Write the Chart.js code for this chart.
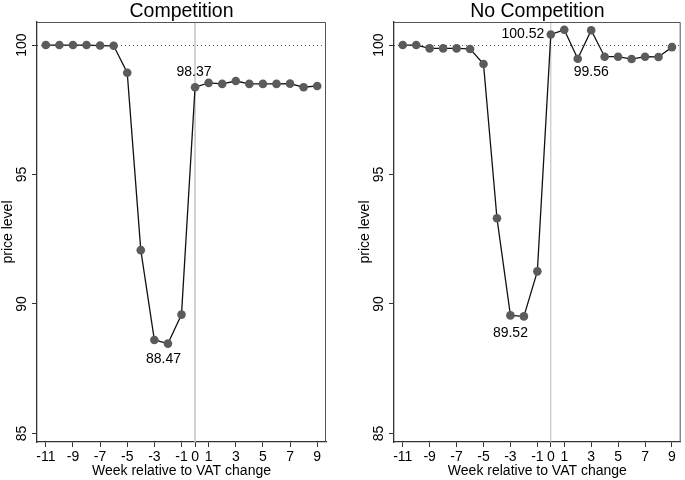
<!DOCTYPE html>
<html>
<head>
<meta charset="utf-8">
<script src="https://cdn.jsdelivr.net/npm/chart.js@4.4.1/dist/chart.umd.min.js"></script>
<style>
  body { margin: 0; background: #fff; width: 685px; height: 480px; overflow: hidden; position: relative; }
  canvas { position: absolute; top: 0; }
</style>
</head>
<body>
<canvas id="chart_c" width="342" height="480" style="left:0"></canvas>
<canvas id="chart_n" width="328" height="480" style="left:357px"></canvas>
<script>
// weeks relative to VAT change
const weeks = [-11, -10, -9, -8, -7, -6, -5, -4, -3, -2, -1, 0, 1, 2, 3, 4, 5, 6, 7, 8, 9];

// price level, competition
const compValues = [100, 100, 100, 100, 99.98, 99.97, 98.93, 92.08, 88.61, 88.47, 89.59,
                    98.37, 98.54, 98.50, 98.61, 98.50, 98.50, 98.50, 98.51, 98.37, 98.42];

// price level, no competition
const noCompValues = [100, 100, 99.87, 99.87, 99.87, 99.85, 99.27, 93.31, 89.56, 89.52, 91.26,
                      100.41, 100.59, 99.47, 100.57, 99.55, 99.55, 99.46, 99.55, 99.54, 99.92];

const xTicks = [-11, -9, -7, -5, -3, -1, 0, 1, 3, 5, 7, 9];
const yTicks = [85, 90, 95, 100];

// labelled points
const compNotes = ['98.37', '88.47'];
const compNoteWeeks = [0, -2];
const noCompNotes = ['100.52', '99.56', '89.52'];
const noCompNoteWeeks = [0, 2, -3];

const FONT = "'Liberation Sans', Arial, Helvetica, sans-serif";

// reference lines, frame, rotated y labels, notes
const panelPlugin = {
    id: 'panel',
    beforeDatasetsDraw(chart, args, opts) {
        const {ctx, chartArea: a, scales: {x, y}} = chart;
        ctx.save();
        // dotted line at 100
        ctx.strokeStyle = '#555';
        ctx.lineWidth = 1;
        ctx.setLineDash([1, 3]);
        ctx.beginPath();
        const y100 = Math.round(y.getPixelForValue(100)) + 0.5;
        ctx.moveTo(a.left, y100);
        ctx.lineTo(a.right, y100);
        ctx.stroke();
        ctx.setLineDash([]);
        // vertical line at week 0
        ctx.strokeStyle = opts.vColor;
        ctx.lineWidth = opts.vWidth;
        ctx.beginPath();
        const x0 = x.getPixelForValue(0);
        ctx.moveTo(x0, a.top);
        ctx.lineTo(x0, a.bottom);
        ctx.stroke();
        ctx.restore();
    },
    afterDraw(chart, args, opts) {
        const {ctx, chartArea: a, scales: {x, y}} = chart;
        ctx.save();
        // top and right frame
        ctx.strokeStyle = '#555';
        ctx.lineWidth = 1;
        ctx.beginPath();
        ctx.moveTo(a.left, a.top + 0.5);
        ctx.lineTo(a.right - 0.5, a.top + 0.5);
        ctx.lineTo(a.right - 0.5, a.bottom);
        ctx.stroke();

        // y tick labels, rotated
        ctx.fillStyle = '#000';
        ctx.font = '14px ' + FONT;
        ctx.textAlign = 'center';
        ctx.textBaseline = 'alphabetic';
        yTicks.forEach(v => {
            ctx.save();
            ctx.translate(a.left - 11.5, y.getPixelForValue(v));
            ctx.rotate(-Math.PI / 2);
            ctx.fillText(String(v), 0, 0);
            ctx.restore();
        });

        // point notes
        ctx.font = '14px ' + FONT;
        ctx.textBaseline = 'middle';
        opts.notes.forEach((t, i) => {
            const w = opts.noteWeeks[i];
            const v = opts.values[weeks.indexOf(w)];
            const off = opts.offsets[i];
            ctx.textAlign = off[2];
            ctx.fillText(t, x.getPixelForValue(w) + off[0], y.getPixelForValue(v) + off[1]);
        });
        ctx.restore();
    }
};

function setupChart(id, title, values, notes, noteWeeks, offsets, padRight, vColor, vWidth) {
    const ctx = document.getElementById(id).getContext('2d');
    return new Chart(ctx, {
        type: 'line',
        data: {
            datasets: [{
                data: weeks.map((w, i) => ({x: w, y: values[i]})),
                borderColor: '#111',
                borderWidth: 1.3,
                pointRadius: 4.3,
                pointBackgroundColor: '#5b5b5b',
                pointBorderWidth: 0,
                tension: 0,
                clip: false
            }]
        },
        options: {
            responsive: false,
            animation: false,
            events: [],
            layout: { padding: { left: 0, right: padRight, top: 0, bottom: 0 } },
            plugins: {
                legend: { display: false },
                tooltip: { enabled: false },
                title: {
                    display: true,
                    text: title,
                    fullSize: false,
                    color: '#000',
                    font: { family: FONT, size: 19.5, weight: 'normal', lineHeight: 1 },
                    padding: { top: 2, bottom: 0.5 }
                },
                panel: { notes: notes, noteWeeks: noteWeeks, values: values, offsets: offsets, vColor: vColor, vWidth: vWidth }
            },
            scales: {
                x: {
                    type: 'linear',
                    min: -11.65,
                    max: 9.65,
                    afterBuildTicks: s => { s.ticks = xTicks.map(v => ({value: v})); },
                    afterFit: s => { s.height = 38; },
                    grid: { drawOnChartArea: false, drawTicks: true, tickLength: 5, color: '#333' },
                    border: { display: true, color: '#333', width: 1.3 },
                    ticks: { color: '#000', font: { family: FONT, size: 14 }, padding: 2, maxRotation: 0, autoSkip: false },
                    title: {
                        display: true,
                        text: 'Week relative to VAT change',
                        color: '#000',
                        font: { family: FONT, size: 14 },
                        padding: { top: 0, bottom: 0 }
                    }
                },
                y: {
                    min: 84.67,
                    max: 100.89,
                    afterBuildTicks: s => { s.ticks = yTicks.map(v => ({value: v})); },
                    afterFit: s => { s.width = 37; },
                    grid: { drawOnChartArea: false, drawTicks: true, tickLength: 5, color: '#333' },
                    border: { display: true, color: '#333', width: 1.3 },
                    ticks: { display: false },
                    title: {
                        display: true,
                        text: 'price level',
                        color: '#000',
                        font: { family: FONT, size: 14 },
                        padding: { top: 0, bottom: 0 }
                    }
                }
            }
        },
        plugins: [panelPlugin]
    });
}

setupChart('chart_c', 'Competition', compValues, compNotes, compNoteWeeks,
    [[-1, -15.5, 'center'], [-4.5, 15.5, 'center']], 16, '#c8c8c8', 1.6);
setupChart('chart_n', 'No Competition', noCompValues, noCompNotes, noCompNoteWeeks,
    [[-6.5, 0, 'right'], [13.5, 13.5, 'center'], [0, 18, 'center']], 2, '#bbbbbb', 1);
</script>
</body>
</html>
